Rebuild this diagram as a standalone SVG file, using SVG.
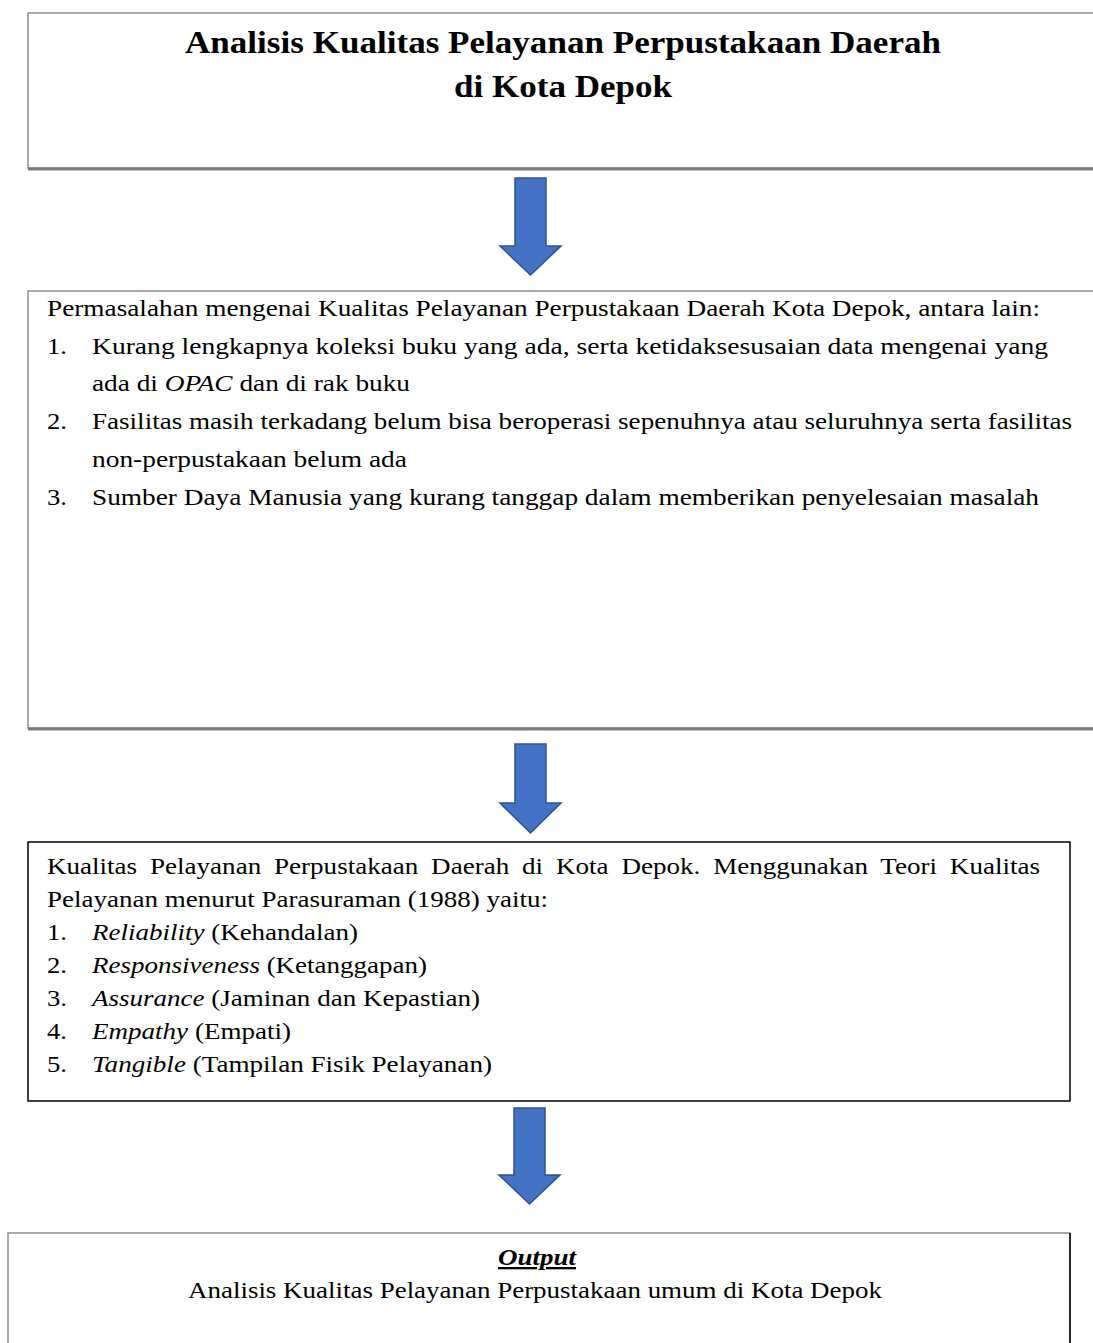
<svg xmlns="http://www.w3.org/2000/svg" width="1093" height="1343" viewBox="0 0 1093 1343">
<style>
.t{font-family:"Liberation Serif","Times New Roman",serif;fill:#000}
.title{font-size:31px;font-weight:bold}
.b2{font-size:24px}
.b3{font-size:23px}
.b4{font-size:23px}
.i{font-style:italic}
.gbox{fill:#fff;stroke:#8c8c8c;stroke-width:1.5}
.shadow{stroke:#7a7a7a;stroke-width:3}
.arrow{fill:#4472C4;stroke:#2F528F;stroke-width:1.5;stroke-linejoin:miter}
</style>
<rect width="1093" height="1343" fill="#fff"/>

<g id="node-title">
<rect class="gbox" x="28" y="13" width="1080" height="155"/>
<line class="shadow" x1="28" y1="169" x2="1093" y2="169"/>
<text class="t title" x="185" y="53" textLength="756" lengthAdjust="spacingAndGlyphs">Analisis Kualitas Pelayanan Perpustakaan Daerah</text>
<text class="t title" x="454" y="97" textLength="218" lengthAdjust="spacingAndGlyphs">di Kota Depok</text>
</g>

<g id="node-masalah">
<rect class="gbox" x="28" y="291" width="1080" height="437"/>
<line class="shadow" x1="28" y1="729" x2="1093" y2="729"/>
<text class="t b2" x="47" y="316" textLength="993" lengthAdjust="spacingAndGlyphs">Permasalahan mengenai Kualitas Pelayanan Perpustakaan Daerah Kota Depok, antara lain:</text>
<text class="t b2" x="47" y="354" textLength="20" lengthAdjust="spacingAndGlyphs">1.</text>
<text class="t b2" x="92" y="354" textLength="956" lengthAdjust="spacingAndGlyphs">Kurang lengkapnya koleksi buku yang ada, serta ketidaksesusaian data mengenai yang</text>
<text class="t b2" x="92" y="391" textLength="318" lengthAdjust="spacingAndGlyphs">ada di <tspan class="i">OPAC</tspan> dan di rak buku</text>
<text class="t b2" x="47" y="429" textLength="20" lengthAdjust="spacingAndGlyphs">2.</text>
<text class="t b2" x="92" y="429" textLength="980" lengthAdjust="spacingAndGlyphs">Fasilitas masih terkadang belum bisa beroperasi sepenuhnya atau seluruhnya serta fasilitas</text>
<text class="t b2" x="92" y="467" textLength="315" lengthAdjust="spacingAndGlyphs">non-perpustakaan belum ada</text>
<text class="t b2" x="47" y="505" textLength="20" lengthAdjust="spacingAndGlyphs">3.</text>
<text class="t b2" x="92" y="505" textLength="947" lengthAdjust="spacingAndGlyphs">Sumber Daya Manusia yang kurang tanggap dalam memberikan penyelesaian masalah</text>
</g>

<g id="node-teori">
<rect x="28" y="842" width="1042" height="259" fill="#fff" stroke="#000" stroke-width="1.5"/>
<text class="t b3" x="47" y="874" word-spacing="5.2" textLength="993" lengthAdjust="spacingAndGlyphs">Kualitas Pelayanan Perpustakaan Daerah di Kota Depok. Menggunakan Teori Kualitas</text>
<text class="t b3" x="47" y="907" textLength="501" lengthAdjust="spacingAndGlyphs">Pelayanan menurut Parasuraman (1988) yaitu:</text>
<text class="t b3" x="47" y="940" textLength="20" lengthAdjust="spacingAndGlyphs">1.</text>
<text class="t b3" x="92" y="940" textLength="266" lengthAdjust="spacingAndGlyphs"><tspan class="i">Reliability</tspan> (Kehandalan)</text>
<text class="t b3" x="47" y="973" textLength="20" lengthAdjust="spacingAndGlyphs">2.</text>
<text class="t b3" x="92" y="973" textLength="335" lengthAdjust="spacingAndGlyphs"><tspan class="i">Responsiveness</tspan> (Ketanggapan)</text>
<text class="t b3" x="47" y="1006" textLength="20" lengthAdjust="spacingAndGlyphs">3.</text>
<text class="t b3" x="92" y="1006" textLength="388" lengthAdjust="spacingAndGlyphs"><tspan class="i">Assurance</tspan> (Jaminan dan Kepastian)</text>
<text class="t b3" x="47" y="1039" textLength="20" lengthAdjust="spacingAndGlyphs">4.</text>
<text class="t b3" x="92" y="1039" textLength="199" lengthAdjust="spacingAndGlyphs"><tspan class="i">Empathy</tspan> (Empati)</text>
<text class="t b3" x="47" y="1072" textLength="20" lengthAdjust="spacingAndGlyphs">5.</text>
<text class="t b3" x="92" y="1072" textLength="400" lengthAdjust="spacingAndGlyphs"><tspan class="i">Tangible</tspan> (Tampilan Fisik Pelayanan)</text>
</g>

<g id="node-output">
<rect x="8" y="1233" width="1062" height="130" fill="#fff" stroke="#8c8c8c" stroke-width="1.5"/>
<line x1="1070" y1="1233" x2="1070" y2="1343" stroke="#000" stroke-width="1.5"/>
<text class="t" x="498" y="1265" font-size="23" font-weight="bold" font-style="italic" text-decoration="underline" textLength="78" lengthAdjust="spacingAndGlyphs">Output</text>
<text class="t b4" x="188" y="1298" textLength="694" lengthAdjust="spacingAndGlyphs">Analisis Kualitas Pelayanan Perpustakaan umum di Kota Depok</text>
</g>

<g id="connectors">
<path class="arrow" d="M515,178 H546 V246 H561 L530.5,275 L500,246 H515 Z"/>
<path class="arrow" d="M515,744 H546 V803 H561 L530.5,833 L500,803 H515 Z"/>
<path class="arrow" d="M514,1108 H545 V1175 H560 L529.5,1204 L499,1175 H514 Z"/>
</g>
</svg>
